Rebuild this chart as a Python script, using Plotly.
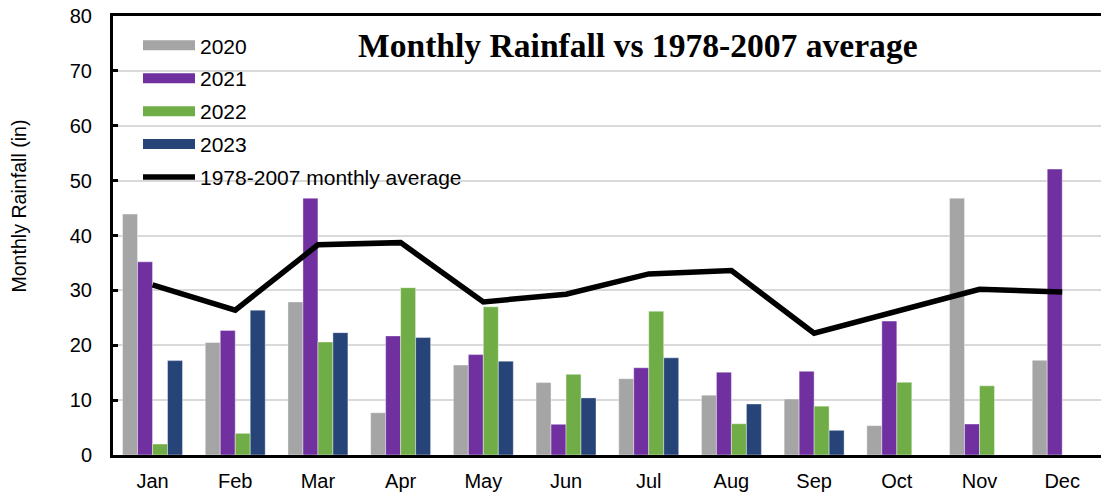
import plotly.graph_objects as go

months = ["Jan", "Feb", "Mar", "Apr", "May", "Jun", "Jul", "Aug", "Sep", "Oct", "Nov", "Dec"]
r2020 = [43.9, 20.5, 27.9, 7.7, 16.4, 13.2, 13.9, 10.9, 10.2, 5.35, 46.8, 17.25]
r2021 = [35.2, 22.7, 46.8, 21.7, 18.3, 5.6, 15.9, 15.1, 15.25, 24.4, 5.65, 52.1]
r2022 = [2.0, 3.95, 20.6, 30.5, 27.0, 14.7, 26.2, 5.7, 8.9, 13.25, 12.6, None]
r2023 = [17.2, 26.4, 22.3, 21.4, 17.1, 10.4, 17.7, 9.3, 4.5, None, None, None]
avg_1978_2007 = [31.0, 26.4, 38.3, 38.7, 27.9, 29.3, 33.0, 33.6, 22.2, 26.2, 30.2, 29.7]

series = [("2020", r2020, "#A5A5A5"), ("2021", r2021, "#7030A0"),
          ("2022", r2022, "#70AD47"), ("2023", r2023, "#264478")]

FONT = "Liberation Sans, Arial, sans-serif"
fig = go.Figure()
for name, vals, col in series:
    fig.add_trace(go.Bar(x=months, y=vals, name=name, marker_color=col,
                         marker_line=dict(color="rgba(255,255,255,0.5)", width=0.8),
                         showlegend=False))
# legend proxies (wide bar swatches)
for name, vals, col in series:
    fig.add_trace(go.Scatter(x=[None], y=[None], mode="lines", name=name,
                             line=dict(color=col, width=11), legendgroup=name))
fig.add_trace(go.Scatter(x=months, y=avg_1978_2007, mode="lines",
                         name="1978-2007 monthly average",
                         line=dict(color="black", width=5.5), legendgroup="avg"))

fig.update_layout(
    width=1101, height=493,
    margin=dict(l=113, r=0, t=16, b=38),
    paper_bgcolor="white", plot_bgcolor="white",
    barmode="group", bargap=0.275, bargroupgap=0,
    font=dict(family=FONT, size=20, color="black"),
    showlegend=True,
    legend=dict(x=0.0253, y=0.979, xanchor="left", yanchor="top",
                bgcolor="rgba(0,0,0,0)", font=dict(size=21, family=FONT),
                itemwidth=52, tracegroupgap=2.6),
    annotations=[
        dict(text="<b>Monthly Rainfall vs 1978-2007 average</b>",
             xref="paper", yref="paper", x=0.531, y=0.932,
             xanchor="center", yanchor="middle", showarrow=False,
             font=dict(family="Liberation Serif, serif", size=33.6, color="black")),
        dict(text="Monthly Rainfall (in)", textangle=-90,
             xref="paper", yref="paper", x=-0.0946, y=0.567,
             xanchor="center", yanchor="middle", showarrow=False,
             font=dict(family=FONT, size=19.6, color="black")),
    ],
)
fig.update_xaxes(range=[-0.478, 11.469], showline=True, linewidth=3, linecolor="black",
                 mirror=True, ticks="", showgrid=False, automargin=False,
                 tickfont=dict(size=20), ticklabelstandoff=6)
fig.update_yaxes(range=[0, 80], dtick=10, showline=True, linewidth=3, linecolor="black",
                 ticks="inside", ticklen=5, tickwidth=3, tickcolor="black",
                 showgrid=True, gridcolor="#D9D9D9", gridwidth=1.5, zeroline=False,
                 automargin=False,
                 tickfont=dict(size=20), ticklabelstandoff=14, ticklabeloverflow="allow")

fig.write_html("out.html", config={"displayModeBar": False},
               post_script="document.body.style.margin='0px';document.body.style.overflow='hidden';")
